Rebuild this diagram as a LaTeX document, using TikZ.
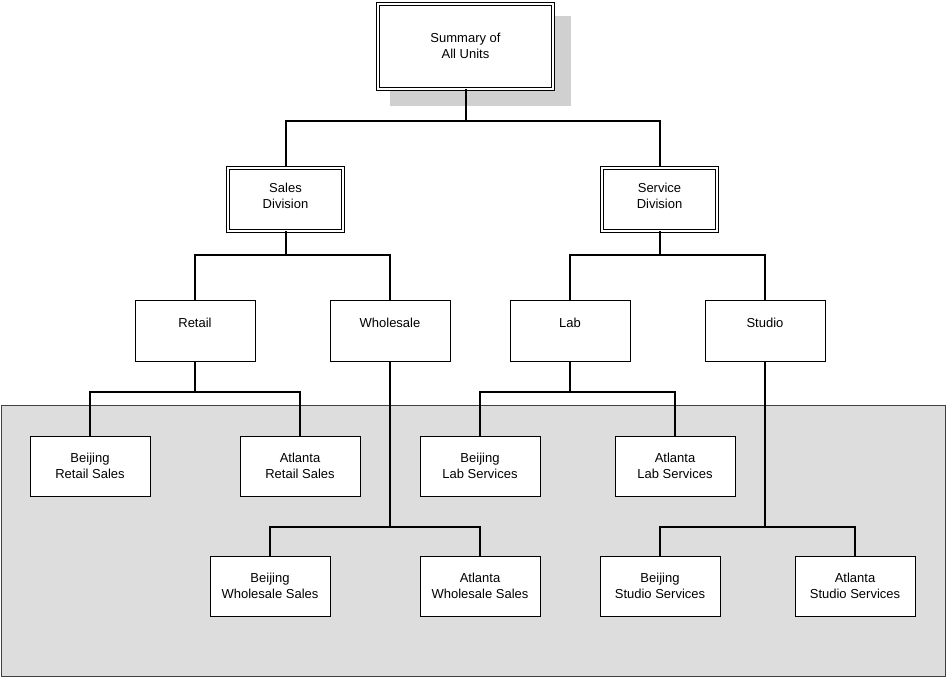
\documentclass[tikz,border=0pt]{standalone}
\usepackage{fontspec}
\setmainfont{Liberation Sans}
\definecolor{shadegray}{RGB}{208,208,208}
\definecolor{areagray}{RGB}{221,221,221}
\definecolor{edgegray}{RGB}{64,64,64}
\begin{document}
\begin{tikzpicture}[x=0.75pt,y=-0.75pt,
  unit/.style={draw,fill=white,line width=0.75pt,align=center,inner sep=0pt,
    minimum width=90pt,minimum height=45pt,font=\fontsize{9.75}{12}\selectfont},
  head/.style={unit,double,double distance=1.5pt},
  conn/.style={line width=1.5pt}]
\useasboundingbox (0,0) rectangle (946,677);
\fill[areagray,draw=edgegray,line width=0.75pt] (1,405.5) rectangle (945,676);
\fill[shadegray] (390,16) rectangle (571,106);
\node[head,minimum width=131.25pt,minimum height=63.75pt] (sum) at (465.5,46.5) {Summary of\\All Units\\[-10.5pt]\mbox{}};
\node[head,minimum width=86.25pt,minimum height=47.25pt] (sales) at (285.5,199.5) {Sales\\Division\\[-6pt]\mbox{}};
\node[head,minimum width=86.25pt,minimum height=47.25pt] (service) at (659.5,199.5) {Service\\Division\\[-6pt]\mbox{}};
\node[unit] (retail) at (195,331) {Retail\\~};
\node[unit] (whole) at (390,331) {Wholesale\\~};
\node[unit] (lab) at (570,331) {Lab\\~};
\node[unit] (studio) at (765,331) {Studio\\~};
\node[unit] (bjretail) at (90,466) {Beijing\\Retail Sales};
\node[unit] (atretail) at (300,466) {Atlanta\\Retail Sales};
\node[unit] (bjlab) at (480,466) {Beijing\\Lab Services};
\node[unit] (atlab) at (675,466) {Atlanta\\Lab Services};
\node[unit] (bjwhole) at (270,586) {Beijing\\Wholesale Sales};
\node[unit] (atwhole) at (480,586) {Atlanta\\Wholesale Sales};
\node[unit] (bjstudio) at (660,586) {Beijing\\Studio Services};
\node[unit] (atstudio) at (855,586) {Atlanta\\Studio Services};
\draw[conn] (sum.south) -- ++(0,32) -| (sales.north);
\draw[conn] (sum.south) -- ++(0,32) -| (service.north);
\draw[conn] (sales.south) -- ++(0,24) -| (retail.north);
\draw[conn] (sales.south) -- ++(0,24) -| (whole.north);
\draw[conn] (service.south) -- ++(0,24) -| (lab.north);
\draw[conn] (service.south) -- ++(0,24) -| (studio.north);
\draw[conn] (retail.south) -- ++(0,30) -| (bjretail.north);
\draw[conn] (retail.south) -- ++(0,30) -| (atretail.north);
\draw[conn] (lab.south) -- ++(0,30) -| (bjlab.north);
\draw[conn] (lab.south) -- ++(0,30) -| (atlab.north);
\draw[conn] (whole.south) -- ++(0,165) -| (bjwhole.north);
\draw[conn] (whole.south) -- ++(0,165) -| (atwhole.north);
\draw[conn] (studio.south) -- ++(0,165) -| (bjstudio.north);
\draw[conn] (studio.south) -- ++(0,165) -| (atstudio.north);
\end{tikzpicture}
\end{document}
